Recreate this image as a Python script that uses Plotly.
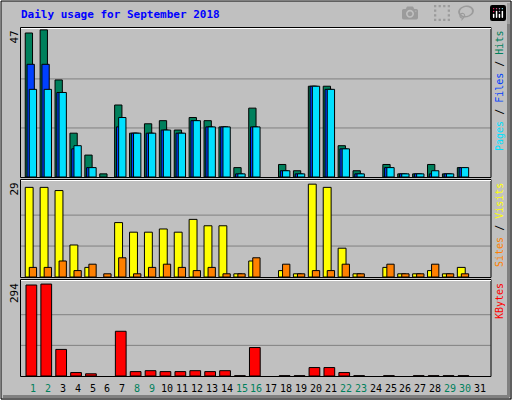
import plotly.graph_objects as go

days = list(range(1, 32))
hits  = [46,47,31,14,7,1,23,14,17,18,15,19,18,16,3,22,0,4,2,29,29,10,2,0,4,1,1,4,1,3,0]
files = [36,36,27,9,3,0,16,14,14,15,14,18,16,16,1,16,0,2,1,29,28,9,1,0,3,1,1,1,1,3,0]
pages = [28,28,27,10,3,0,19,14,14,15,14,18,16,16,1,16,0,2,1,29,28,9,1,0,3,1,1,2,1,3,0]
visits = [28,28,27,10,3,0,17,14,14,15,14,18,16,16,1,5,0,2,1,29,28,9,1,0,3,1,1,2,1,3,0]
sites  = [3,3,5,2,4,1,6,1,3,4,3,2,3,1,1,6,0,4,1,2,2,4,1,0,4,1,1,4,1,1,0]
kbytes = [291,294,85,11,7,0,143,14,17,14,14,17,14,17,1,91,0,1,1,27,27,11,1,0,1,0,1,1,1,1,0]
weekend = {1,2,8,9,15,16,22,23,29,30}
maxes = [47, 29, 294]

W, H = 512, 400
def py(px): return 1 - px / H
def pxx(px): return px / W

fig = go.Figure()
line = dict(color="black", width=1)
def bar(y, yaxis, color, off, wid):
    yy = [v if v > 0 else None for v in y]
    fig.add_trace(go.Bar(x=days, y=yy, yaxis=yaxis, offset=off, width=wid,
                         marker=dict(color=color, line=line), showlegend=False))
bar(hits, "y", "#00805C", -0.52, 0.49)
bar(files, "y", "#0040FF", -0.40, 0.49)
bar(pages, "y", "#00E0FF", -0.25, 0.49)
bar(visits, "y2", "#FFFF00", -0.52, 0.53)
bar(sites, "y2", "#FF8000", -0.25, 0.49)
bar(kbytes, "y3", "#FF0000", -0.47, 0.72)

xr = [0.175, 31.72]
ax = dict(showgrid=False, zeroline=False, showticklabels=False, fixedrange=True)
fig.update_layout(
    width=W, height=H, margin=dict(l=0, r=0, t=0, b=0),
    paper_bgcolor="#C0C0C0", plot_bgcolor="#C0C0C0", barmode="overlay",
    xaxis=dict(range=xr, domain=[pxx(20.7), pxx(490.7)], anchor="y3", **ax),
    yaxis=dict(range=[0, 47.6], domain=[py(177), py(28)], **ax),
    yaxis2=dict(range=[0, 30.3], domain=[py(277), py(180)], **ax),
    yaxis3=dict(range=[0, 307], domain=[py(376), py(280)], **ax),
)

shapes = []
panels = [("y", 177, 28, 47.6), ("y2", 277, 180, 30.3), ("y3", 376, 280, 307)]
for (yr, b, t, top), m in zip(panels, maxes):
    for k in (1, 2):
        shapes.append(dict(type="line", xref="paper", yref=yr, x0=pxx(20.7), x1=pxx(490.7),
                           y0=m * k / 3, y1=m * k / 3, line=dict(color="#808080", width=1), layer="below"))
    shapes.append(dict(type="rect", xref="paper", yref="paper", x0=pxx(20.5), x1=pxx(491),
                       y0=py(b + 0.5), y1=py(t - 0.5), line=dict(color="black", width=1)))
    shapes.append(dict(type="line", xref="paper", yref="paper", x0=pxx(21), x1=pxx(491),
                       y0=py(t + 0.5), y1=py(t + 0.5), line=dict(color="white", width=1)))
shapes += [
    dict(type="line", xref="paper", yref="paper", x0=0, x1=1, y0=py(0.5), y1=py(0.5), line=dict(color="white", width=1)),
    dict(type="line", xref="paper", yref="paper", x0=pxx(0.5), x1=pxx(0.5), y0=0, y1=1, line=dict(color="white", width=1)),
    dict(type="rect", xref="paper", yref="paper", x0=pxx(1), x1=pxx(511), y0=py(399), y1=py(1), line=dict(color="black", width=1)),
    dict(type="line", xref="paper", yref="paper", x0=pxx(3), x1=pxx(509), y0=py(396.5), y1=py(396.5), line=dict(color="#808080", width=3)),
    dict(type="line", xref="paper", yref="paper", x0=pxx(508.5), x1=pxx(508.5), y0=py(397), y1=py(3), line=dict(color="#808080", width=3)),
]
fig.update_layout(shapes=shapes)

font = "DejaVu Sans Mono"
ann = [dict(text="<b>Daily usage for September 2018</b>", x=pxx(19), y=py(15), xref="paper", yref="paper",
            xanchor="left", yanchor="middle", showarrow=False, font=dict(family=font, size=11, color="#0000FF"))]
for label, top in zip(maxes, [28, 180, 280]):
    ann.append(dict(text=str(label), x=pxx(14), y=py(top + 1), xref="paper", yref="paper", textangle=-90,
                    xanchor="center", yanchor="top", showarrow=False, font=dict(family=font, size=11, color="black")))
legends = [
    ('<span style="color:#00E0FF">Pages</span> / <span style="color:#0040FF">Files</span> / <span style="color:#00805C">Hits</span>', 28),
    ('<span style="color:#FF8000">Sites</span> / <span style="color:#FFFF00">Visits</span>', 180),
    ('<span style="color:#FF0000">KBytes</span>', 280),
]
for txt, top in legends:
    ann.append(dict(text=txt, x=pxx(499), y=py(top + 1), xref="paper", yref="paper", textangle=-90,
                    xanchor="center", yanchor="top", showarrow=False, font=dict(family=font, size=10, color="black")))
for d in days:
    ann.append(dict(text=str(d), x=d, y=py(388), xref="x", yref="paper", showarrow=False,
                    xanchor="center", yanchor="middle",
                    font=dict(family=font, size=10, color="#00805C" if d in weekend else "black")))
fig.update_layout(annotations=ann)
fig.write_html("out.html", post_script="document.body.style.margin='0';document.body.style.overflow='hidden';")
